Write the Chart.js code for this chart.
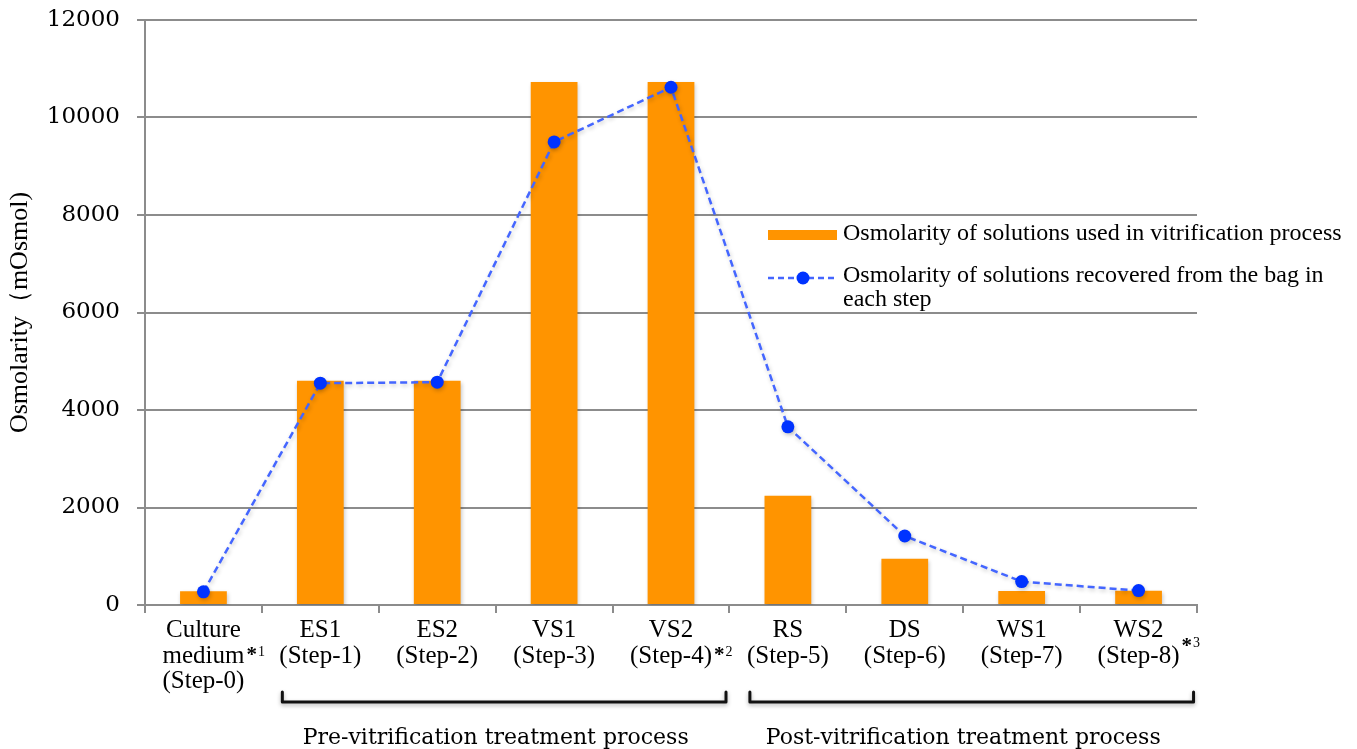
<!DOCTYPE html>
<html>
<head>
<meta charset="utf-8">
<title>Osmolarity</title>
<script src="https://cdn.jsdelivr.net/npm/chart.js@4.4.0/dist/chart.umd.min.js"></script>
<style>
  html, body { margin: 0; padding: 0; background: #fff; }
</style>
</head>
<body>
<canvas id="osmChart" width="1357" height="749"></canvas>
<script>
// categories (multi-line axis labels)
const stepLabels = [
  ['Culture', 'medium', '(Step-0)'],
  ['ES1', '(Step-1)'],
  ['ES2', '(Step-2)'],
  ['VS1', '(Step-3)'],
  ['VS2', '(Step-4)'],
  ['RS', '(Step-5)'],
  ['DS', '(Step-6)'],
  ['WS1', '(Step-7)'],
  ['WS2', '(Step-8)']
];

// osmolarity of the solutions themselves (bars)
const solutionOsm = [280, 4600, 4600, 10730, 10730, 2240, 950, 285, 290];
// osmolarity recovered from the bag (dashed line)
const recoveredOsm = [270, 4550, 4570, 9500, 10620, 3655, 1415, 480, 295];

const yTicks = [0, 2000, 4000, 6000, 8000, 10000, 12000];

const seriesNames = [
  ['Osmolarity of solutions used in vitrification process'],
  ['Osmolarity of solutions recovered from the bag in', 'each step']
];

// footnote marks after a label line: category index, line index, mark
const footnotes = [
  { idx: 0, line: 1, mark: '1', lift: 9 },
  { idx: 4, line: 1, mark: '2', lift: 9 },
  { idx: 8, line: 1, mark: '3', lift: 18 }
];

// brackets under the categories
const groups = [
  { label: 'Pre-vitrification treatment process', from: 1, to: 4 },
  { label: 'Post-vitrification treatment process', from: 5, to: 8 }
];

const ORANGE = '#FF9400';
const LINE_BLUE = '#4466FF';
const DOT_BLUE = '#0033FF';
const GRID = '#8C8C8C';
const SERIF = '"Liberation Serif", "Times New Roman", serif';
const WIDE_SERIF = '"DejaVu Serif", serif';

// soft drop shadow behind bars and points, like the original
const shadowPlugin = {
  id: 'shadow',
  beforeDatasetsDraw(chart) {
    const ctx = chart.ctx;
    ctx.save();
    ctx.shadowColor = 'rgba(0,0,0,0.22)';
    ctx.shadowBlur = 4;
    ctx.shadowOffsetX = 1;
    ctx.shadowOffsetY = 2;
  },
  afterDatasetsDraw(chart) {
    chart.ctx.restore();
  }
};

// legend, footnote marks, brackets and group titles
const extrasPlugin = {
  id: 'extras',
  afterDraw(chart) {
    const ctx = chart.ctx;
    const x = chart.scales.x;
    const area = chart.chartArea;
    ctx.save();

    // legend (right side, between the 8000 and 6000 grid lines)
    const lx = area.right - 429;
    const ly = area.top + 210;
    ctx.fillStyle = ORANGE;
    ctx.fillRect(lx, ly, 69, 10);

    ctx.strokeStyle = LINE_BLUE;
    ctx.lineWidth = 2.5;
    ctx.setLineDash([6, 4]);
    ctx.beginPath();
    ctx.moveTo(lx, ly + 48);
    ctx.lineTo(lx + 69, ly + 48);
    ctx.stroke();
    ctx.setLineDash([]);
    ctx.fillStyle = DOT_BLUE;
    ctx.beginPath();
    ctx.arc(lx + 35, ly + 48, 6.5, 0, Math.PI * 2);
    ctx.fill();

    ctx.fillStyle = '#000';
    ctx.font = '24px ' + SERIF;
    ctx.textAlign = 'left';
    ctx.textBaseline = 'alphabetic';
    seriesNames[0].forEach((t, i) => ctx.fillText(t, lx + 75, ly + 10 + i * 24));
    seriesNames[1].forEach((t, i) => ctx.fillText(t, lx + 75, ly + 52 + i * 23.5));

    // footnote marks
    const firstBaseline = area.bottom + 34;
    ctx.font = '25px ' + SERIF;
    footnotes.forEach(f => {
      const text = stepLabels[f.idx][f.line];
      const w = ctx.measureText(text).width;
      const cx = x.getPixelForValue(f.idx);
      const bx = cx + w / 2 + 2;
      const by = firstBaseline + f.line * 25.5 - f.lift;
      ctx.font = 'bold 21px ' + SERIF;
      ctx.fillText('*', bx, by + 5);
      const aw = ctx.measureText('*').width;
      ctx.font = '14px ' + SERIF;
      ctx.fillText(f.mark, bx + aw + 1, by);
      ctx.font = '25px ' + SERIF;
    });

    // brackets
    ctx.strokeStyle = '#111';
    ctx.lineWidth = 3;
    ctx.lineJoin = 'round';
    ctx.lineCap = 'round';
    ctx.shadowColor = 'rgba(0,0,0,0.3)';
    ctx.shadowBlur = 4;
    ctx.shadowOffsetY = 2;
    const by = area.bottom + 97;
    groups.forEach(g => {
      const left = x.getPixelForValue(g.from) - 38;
      const right = x.getPixelForValue(g.to) + 55;
      ctx.beginPath();
      ctx.moveTo(left, by - 10);
      ctx.lineTo(left, by);
      ctx.lineTo(right, by);
      ctx.lineTo(right, by - 10);
      ctx.stroke();
    });
    ctx.shadowColor = 'transparent';

    // group titles
    ctx.font = '22px ' + WIDE_SERIF;
    ctx.textAlign = 'center';
    groups.forEach(g => {
      const cx = (x.getPixelForValue(g.from) + x.getPixelForValue(g.to)) / 2;
      ctx.fillText(g.label, cx, area.bottom + 139);
    });

    ctx.restore();
  }
};

const ctx = document.getElementById('osmChart').getContext('2d');
new Chart(ctx, {
  type: 'bar',
  data: {
    labels: stepLabels,
    datasets: [
      {
        type: 'line',
        label: seriesNames[1].join(' '),
        data: recoveredOsm,
        borderColor: LINE_BLUE,
        borderWidth: 2.5,
        borderDash: [7, 4],
        tension: 0,
        pointRadius: 6.5,
        pointBackgroundColor: DOT_BLUE,
        pointBorderWidth: 0,
        order: 0
      },
      {
        label: seriesNames[0].join(' '),
        data: solutionOsm,
        backgroundColor: ORANGE,
        barPercentage: 0.4,
        categoryPercentage: 1.0,
        order: 1
      }
    ]
  },
  options: {
    responsive: false,
    animation: false,
    devicePixelRatio: 1,
    layout: { padding: { left: 0, right: 160, top: 20, bottom: 0 } },
    scales: {
      x: {
        grid: {
          display: true,
          drawOnChartArea: false,
          offset: true,
          color: GRID,
          lineWidth: 2,
          tickLength: 8
        },
        border: { color: GRID, width: 2 },
        ticks: {
          color: '#000',
          font: { family: SERIF, size: 25, lineHeight: 1.02 },
          padding: 5,
          maxRotation: 0,
          autoSkip: false
        },
        afterFit: (scale) => { scale.height = 144; }
      },
      y: {
        min: 0,
        max: 12000,
        afterBuildTicks: (scale) => { scale.ticks = yTicks.map(v => ({ value: v })); },
        grid: { color: GRID, lineWidth: 2, tickLength: 8 },
        border: { color: GRID, width: 2 },
        ticks: {
          color: '#000',
          font: { family: WIDE_SERIF, size: 23 },
          padding: 17,
          callback: (v) => String(v)
        },
        title: {
          display: true,
          text: 'Osmolarity（mOsmol)',
          color: '#000',
          font: { family: SERIF, size: 26 },
          padding: { top: 5, bottom: 0 }
        },
        afterFit: (scale) => {
          scale.width = 145;
          scale.paddingTop = 0;
          scale.paddingBottom = 0;
        }
      }
    },
    plugins: {
      legend: { display: false },
      tooltip: { enabled: false }
    }
  },
  plugins: [shadowPlugin, extrasPlugin]
});
</script>
</body>
</html>
